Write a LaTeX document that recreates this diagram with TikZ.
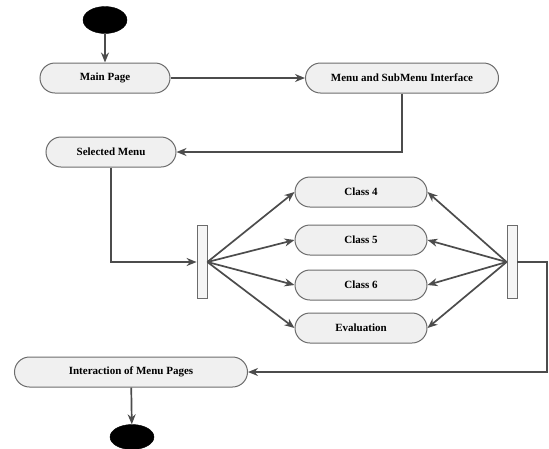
\documentclass[tikz,border=0pt]{standalone}
\usepackage{fontspec}
\setmainfont{Liberation Serif}
\usetikzlibrary{shapes.geometric,arrows.meta}

\tikzset{
  activity/.style={draw=gray!85!black,fill=gray!12,line width=1pt,rounded corners=15pt,
    minimum height=30pt,inner sep=0pt,font=\fontsize{11}{12}\selectfont\bfseries},
  blob/.style={ellipse,fill=black,draw=black,inner sep=0pt},
  bar/.style={draw=gray!85!black,fill=gray!8,line width=0.8pt,minimum width=10pt,
    minimum height=73pt,inner sep=0pt},
  flow/.style={draw=gray!60!black,line width=1.7pt,-{Stealth[length=10pt,width=8pt]}}
}

\begin{document}
\begin{tikzpicture}[x=1pt,y=-1pt]
    \useasboundingbox (0,0) rectangle (549,448);
    \node [blob,minimum width=44pt,minimum height=27pt] (start) at (105,20) {}; % inizio
    \node [activity,minimum width=130pt] (main) at (105,78) {Main Page};
    \node [activity,minimum width=193pt] (menu) at (402,78) {Menu and SubMenu Interface};
    \node [activity,minimum width=130pt] (sel) at (111,152) {Selected Menu};
    \node [bar] (fork) at (202,262) {}; % barra sinistra
    \node [bar] (join) at (512,262) {}; % barra destra
    \node [activity,minimum width=132pt] (c4) at (361,192) {Class 4};
    \node [activity,minimum width=132pt] (c5) at (361,240) {Class 5};
    \node [activity,minimum width=132pt] (c6) at (361,285) {Class 6};
    \node [activity,minimum width=132pt] (eval) at (361,328) {Evaluation};
    \node [activity,minimum width=233pt] (inter) at (131,372) {Interaction of Menu Pages};
    \node [blob,minimum width=44pt,minimum height=25pt] (stop) at (132,437) {}; % fine
    \coordinate (turn) at (547,262);
    \draw [flow] (start) -- (main);
    \draw [flow] (main) -- (menu);
    \draw [flow] (menu.south) |- (sel.east);
    \draw [flow] (sel.south) |- (fork.west);
    % rami della biforcazione
    \foreach \n in {c4,c5,c6,eval}
      \draw [flow] (fork.east) -- (\n.west);
    \foreach \n in {c4,c5,c6,eval}
      \draw [flow] (join.west) -- (\n.east);
    \draw [flow] (join.east) -- (turn) |- (inter.east);
    \draw [flow] (inter) -- (stop);
  \end{tikzpicture}
\end{document}
